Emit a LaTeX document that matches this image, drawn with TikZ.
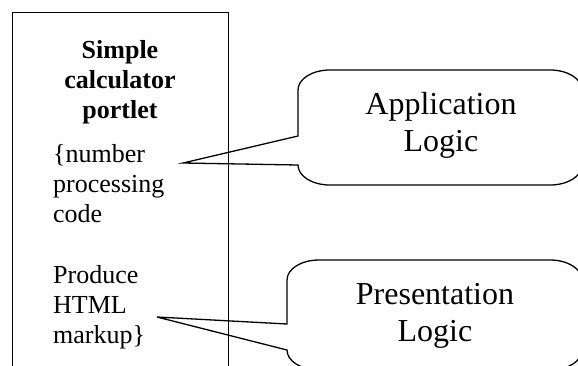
\documentclass[tikz,border=0pt]{standalone}
\usepackage{fontspec}
\setmainfont{Liberation Serif}
\begin{document}
\begin{tikzpicture}[x=1pt,y=-1pt,
  frame/.style={line width=0.9pt},
  callout/.style={line width=1.3pt, line join=miter},
  lefttext/.style={inner sep=0pt, anchor=base west, align=left, font=\fontsize{26}{30}\selectfont},
  titletext/.style={inner sep=0pt, anchor=base, align=center, font=\fontsize{26}{30}\selectfont\bfseries},
  bubbletext/.style={inner sep=0pt, anchor=base, align=center, font=\fontsize{32}{37}\selectfont}]
\useasboundingbox (0,0) rectangle (578,365);
\clip (0,0) rectangle (578,365);
% portlet box (bottom edge lies outside the picture)
\draw[frame] (12,12) rectangle (228,380);
% anchors sit on the baseline of each block's last line
\node[titletext] (title) at (120,118) {Simple\\calculator\\portlet};
\node[lefttext] (code) at (53,222) {\{number\\processing\\code};
\node[lefttext] (markup) at (53,343) {Produce\\HTML\\markup\}};
% callout tips
\coordinate (tipA) at (183,163);
\coordinate (tipP) at (157,317);
% Application Logic callout
\draw[callout] (298,136) -- (298,90)
  .. controls (298,79) and (312,70) .. (330,70) -- (550,70)
  .. controls (568,70) and (582,79) .. (582,90) -- (582,165)
  .. controls (582,176) and (568,185) .. (550,185) -- (330,185)
  .. controls (312,185) and (298,176) .. (298,165) -- (tipA) -- cycle;
\node[bubbletext] (app) at (441,151) {Application\\Logic};
% Presentation Logic callout
\draw[callout] (287,324) -- (287,280)
  .. controls (287,269) and (301,260) .. (319,260) -- (550,260)
  .. controls (568,260) and (582,269) .. (582,280) -- (582,350)
  .. controls (582,361) and (568,370) .. (550,370) -- (319,370)
  .. controls (301,370) and (287,361) .. (287,350) -- (tipP) -- cycle;
\node[bubbletext] (pres) at (435,341) {Presentation\\Logic};
\end{tikzpicture}
\end{document}
